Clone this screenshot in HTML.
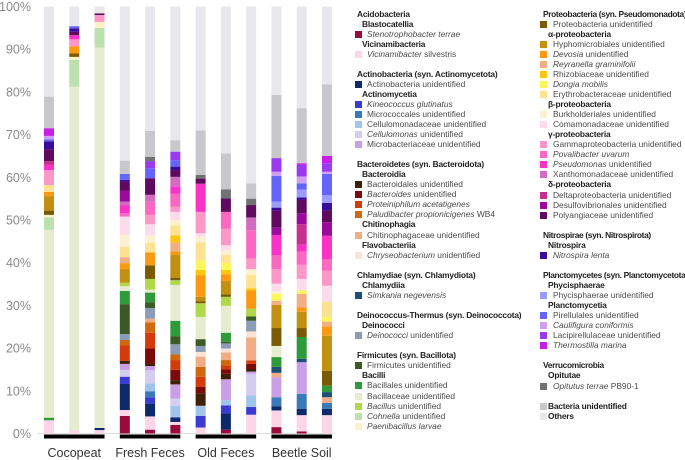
<!DOCTYPE html>
<html><head><meta charset="utf-8"><style>
html,body{margin:0;padding:0;background:#fff;}
#root{position:relative;width:685px;height:460px;overflow:hidden;font-family:"Liberation Sans",sans-serif;}
svg{position:absolute;left:0;top:0;}
.lg{position:absolute;font-size:8.4px;color:#4a4a4a;white-space:nowrap;line-height:10px;}
.lg.h{font-weight:bold;color:#222;letter-spacing:-0.2px;}
.sw{position:absolute;width:7px;height:7px;}
</style></head><body>
<div id="root">
<svg id="chart" width="685" height="460"></svg>
</div>
<script>
const categories=["Stenotrophobacter terrae","Vicinamibacter silvestris","Actinobacteria unidentified","Kineococcus glutinatus","Micrococcales unidentified","Cellulomonadaceae unidentified","Cellulomonas unidentified","Microbacteriaceae unidentified","Bacteroidales unidentified","Bacteroides unidentified","Proteiniphilum acetatigenes","Paludibacter propionicigenes WB4","Chitinophagaceae unidentified","Chryseobacterium unidentified","Simkania negevensis","Deinococci unidentified","Firmicutes unidentified","Bacillales unidentified","Bacillaceae unidentified","Bacillus unidentified","Cohnella unidentified","Paenibacillus larvae","Proteobacteria unidentified","Hyphomicrobiales unidentified","Devosia unidentified","Reyranella graminifolii","Rhizobiaceae unidentified","Dongia mobilis","Erythrobacteraceae unidentified","Burkholderiales unidentified","Comamonadaceae unidentified","Gammaproteobacteria unidentified","Povalibacter uvarum","Pseudomonas unidentified","Xanthomonadaceae unidentified","Deltaproteobacteria unidentified","Desulfovibrionales unidentified","Polyangiaceae unidentified","Nitrospira lenta","Phycisphaerae unidentified","Pirellulales unidentified","Caulifigura coniformis","Lacipirellulaceae unidentified","Thermostilla marina","Opitutus terrae PB90-1","Bacteria unidentified","Others"];
const categoryColors=["#9b0a3c","#fcd5e8","#0d2a6b","#3a3bd1","#3a7ab8","#a0c4ea","#d4cdf0","#c9a0e6","#3e1f08","#7b0a0a","#d43a0a","#d0680e","#f0ac84","#fbe3d6","#1f4e79","#8a9cb8","#3b5a25","#2e9b3a","#e5ecd0","#b0d84a","#bde0b0","#fef0c8","#7a5a06","#c19010","#f99a12","#f2ae84","#fcc60e","#fdf65a","#fde292","#fdf0d0","#fcdcec","#fb98c8","#fb68c2","#fb32c8","#d26cbf","#c8308e","#9c0a9c","#5e0a5e","#3a0a9a","#9c9cfb","#6464fb","#d0a0f0","#9a3af0","#c81ee8","#727272","#c8c8cc","#e8e8ec"];
const groups=["Cocopeat","Fresh Feces","Old Feces","Beetle Soil"];
const yTicks=[0,10,20,30,40,50,60,70,80,90,100];
// per-bar stacks: [categoryIndex, percent], bottom to top
const ccp1=[[1,3.1],[17,.6],[18,44],[20,2.9],[21,.6],[22,1],[23,3.4],[24,1],[28,1.6],[31,3.5],[33,1.2],[35,.9],[37,2.8],[38,1.8],[40,.5],[41,.8],[43,1.8],[45,7.4],[46,21.1]];
const ccp2=[[1,.8],[18,80.4],[20,6.3],[21,.7],[22,.8],[24,1.7],[31,1.6],[33,1],[37,.8],[38,.8],[40,.5],[46,4.6]];
const ccp3=[[1,.8],[2,.5],[18,89.1],[20,4.6],[21,1.4],[31,1.6],[37,.4],[46,1.6]];
const ff1=[[0,4.1],[1,1.4],[2,6.1],[3,1.7],[6,1.6],[7,1.4],[8,.7],[10,3.7],[11,1.2],[15,1.4],[16,7],[17,3.1],[18,1.1],[19,.8],[23,3.2],[24,1.4],[25,1.4],[28,2.4],[29,2.8],[30,4.3],[32,.8],[33,1.9],[34,.8],[36,2.6],[37,2.1],[38,.4],[40,1.4],[45,3.1],[46,36.1]];
const ff2=[[0,.9],[1,3.1],[2,3],[3,1.5],[4,1.4],[5,1.8],[6,3.1],[7,1],[8,.6],[9,3.5],[10,3.7],[11,2.4],[12,.9],[15,2.5],[16,1.3],[17,2.3],[18,.7],[19,2.5],[22,3.2],[24,3],[28,2.3],[29,1.7],[30,2.6],[31,2.2],[32,3.1],[34,1.6],[37,3.9],[40,2.3],[42,1.7],[44,1],[45,6.1],[46,29.1]];
const ff3=[[0,2],[1,.7],[2,1.1],[5,2.7],[6,1.7],[7,3.3],[8,1],[9,2.4],[10,2.3],[11,1.3],[15,2.4],[16,1.9],[17,3.6],[18,8.4],[19,1.1],[22,.6],[23,5.3],[24,.9],[25,2],[26,1.7],[28,2.4],[29,1.2],[30,1.9],[31,1.2],[32,3.1],[33,1.7],[34,2.2],[37,1.6],[38,.8],[40,1.5],[42,2],[45,2.7],[46,31.3]];
const of1=[[1,1.4],[3,2.7],[5,2.4],[8,2.9],[9,1.5],[10,2.4],[11,2.3],[12,2.4],[13,1.1],[15,1.4],[16,1.6],[18,5.2],[19,3.2],[22,.5],[23,1],[24,5],[26,1.3],[27,2.2],[28,4.3],[29,1.3],[30,.8],[31,5],[33,6.6],[37,1.2],[44,.9],[45,10.4],[46,29]];
const of2=[[0,.9],[2,3.8],[3,1.9],[5,1.2],[7,4.9],[8,1.3],[9,1],[10,1],[11,1.2],[12,1.8],[13,.9],[15,1.2],[16,.4],[17,2.1],[18,6.3],[19,2.1],[22,.6],[23,3.1],[24,1.6],[26,1],[27,1.7],[28,1.8],[29,1],[30,1.3],[31,3.9],[32,3.9],[37,3.2],[44,2.1],[45,8.4],[46,34.4]];
const of3=[[1,4.4],[3,1.8],[5,2.7],[6,5.1],[7,.5],[8,.6],[9,1.2],[10,.8],[12,5.4],[13,1.4],[15,2.5],[16,1],[19,1.8],[24,4.3],[26,.5],[28,3.1],[29,1.4],[31,2.5],[32,6.6],[34,3],[37,2.9],[44,1.5],[45,3.6],[46,41.4]];
const bs1=[[0,1.5],[1,3.9],[2,1],[4,2.1],[7,4.7],[12,1],[14,1.4],[17,2.3],[18,2.6],[22,4.2],[23,5.4],[25,1],[27,1.6],[29,.6],[30,1.8],[31,3.4],[32,3.3],[33,4.7],[36,1.7],[37,4],[38,.7],[39,1.4],[40,6],[41,1],[42,3.2],[45,14.8],[46,20.7]];
const bs2=[[0,.5],[1,3.8],[2,1.5],[4,3.5],[7,7.4],[14,.8],[17,5.1],[22,2.1],[23,3.8],[24,1],[25,3.2],[27,.8],[30,2.7],[31,3.3],[32,3.1],[33,1.6],[35,4.8],[36,2.6],[37,3.1],[38,.6],[39,1.8],[40,1.5],[41,1.6],[42,2.7],[43,.4],[45,12.9],[46,23.8]];
const bs3=[[1,4.3],[2,1.5],[4,1.4],[12,1.3],[14,1.2],[17,1.5],[22,3.5],[23,8.2],[24,2.2],[25,1.1],[27,1],[28,3.7],[30,3.7],[31,3.5],[32,2.7],[33,5.5],[36,3.2],[37,2.7],[38,1.8],[39,1.8],[40,5],[41,.5],[42,2],[43,1.7],[45,16.8],[46,18.2]];
const bars=[ccp1,ccp2,ccp3,ff1,ff2,ff3,of1,of2,of3,bs1,bs2,bs3];

const svg=document.getElementById('chart');
const NS='http://www.w3.org/2000/svg';
const y0=433.5, pxPer=4.27;
function yScale(p){return y0-p*pxPer;}
function xBar(i){return 44+i*25.27;}
function mk(t,a){const e=document.createElementNS(NS,t);for(const k in a)e.setAttribute(k,a[k]);svg.appendChild(e);return e;}

yTicks.forEach(function(t){
  const e=mk('text',{x:31,y:yScale(t)+4.5,'text-anchor':'end','font-size':'12.5','fill':'#8a8a8a','font-family':'Liberation Sans, sans-serif'});
  e.textContent=t+'%';
  
  
});
const base=mk('line',{x1:38,x2:335,y1:y0,y2:y0,stroke:'#ddd','stroke-width':1});



bars.forEach(function(segs,i){
  let cum=0;
  segs.forEach(function(s){
    const top=cum+s[1];
    const r=mk('rect',{x:xBar(i),y:yScale(top),width:10,height:s[1]*pxPer,fill:categoryColors[s[0]]});
    
    
    cum=top;
  });
});
groups.forEach(function(g,gi){
  const x1=xBar(gi*3), x2=xBar(gi*3+2)+10;
  const b=mk('rect',{x:x1,y:434.5,width:x2-x1,height:4,fill:'#000'});
  
  
  const t=mk('text',{x:(x1+x2)/2,y:457,'text-anchor':'middle','font-size':'12.5','fill':'#333','font-family':'Liberation Sans, sans-serif'});
  t.textContent=g;
  
  
});

const legendRows=[
[0,14,'h','Acidobacteria'],[0,24,'s','Blastocatellia'],[0,34,'i','<i>Stenotrophobacter terrae</i>',0],[0,44,'s','Vicinamibacteria'],[0,54,'i','<i>Vicinamibacter</i> silvestris',1],
[0,74,'h','Actinobacteria (syn. Actinomycetota)'],[0,84,'i','Actinobacteria unidentified',2],[0,94,'s','Actinomycetia'],[0,104,'i','<i>Kineococcus glutinatus</i>',3],[0,114,'i','Micrococcales unidentified',4],[0,124,'i','Cellulomonadaceae unidentified',5],[0,134,'i','<i>Cellulomonas</i> unidentified',6],[0,144,'i','Microbacteriaceae unidentified',7],
[0,164,'h','Bacteroidetes (syn. Bacteroidota)'],[0,174,'s','Bacteroidia'],[0,184,'i','Bacteroidales unidentified',8],[0,194,'i','<i>Bacteroides</i> unidentified',9],[0,204,'i','<i>Proteiniphilum acetatigenes</i>',10],[0,214,'i','<i>Paludibacter propionicigenes</i> WB4',11],[0,224,'s','Chitinophagia'],[0,235,'i','Chitinophagaceae unidentified',12],[0,245,'s','Flavobacteriia'],[0,255,'i','<i>Chryseobacterium</i> unidentified',13],
[0,275,'h','Chlamydiae (syn. Chlamydiota)'],[0,285,'s','Chlamydiia'],[0,295,'i','<i>Simkania negevensis</i>',14],
[0,315,'h','Deinococcus-Thermus (syn. Deinococcota)'],[0,325,'s','Deinococci'],[0,335,'i','<i>Deinococci</i> unidentified',15],
[0,355,'h','Firmicutes (syn. Bacillota)'],[0,365,'i','Firmicutes unidentified',16],[0,375,'s','Bacilli'],[0,385,'i','Bacillales unidentified',17],[0,396,'i','Bacillaceae unidentified',18],[0,406,'i','<i>Bacillus</i> unidentified',19],[0,416,'i','<i>Cohnella</i> unidentified',20],[0,426,'i','<i>Paenibacillus larvae</i>',21],
[1,14,'h','Proteobacteria (syn. Pseudomonadota)'],[1,24,'i','Proteobacteria unidentified',22],[1,34,'s','α-proteobacteria'],[1,44,'i','Hyphomicrobiales unidentified',23],[1,54,'i','<i>Devosia</i> unidentified',24],[1,64,'i','<i>Reyranella graminifolii</i>',25],[1,74,'i','Rhizobiaceae unidentified',26],[1,84,'i','<i>Dongia mobilis</i>',27],[1,94,'i','Erythrobacteraceae unidentified',28],[1,104,'s','β-proteobacteria'],[1,114,'i','Burkholderiales unidentified',29],[1,124,'i','Comamonadaceae unidentified',30],[1,134,'s','γ-proteobacteria'],[1,144,'i','Gammaproteobacteria unidentified',31],[1,154,'i','<i>Povalibacter uvarum</i>',32],[1,164,'i','<i>Pseudomonas</i> unidentified',33],[1,174,'i','Xanthomonadaceae unidentified',34],[1,184,'s','δ-proteobacteria'],[1,195,'i','Deltaproteobacteria unidentified',35],[1,205,'i','Desulfovibrionales unidentified',36],[1,215,'i','Polyangiaceae unidentified',37],
[1,235,'h','Nitrospirae (syn. Nitrospirota)'],[1,245,'s','Nitrospira'],[1,255,'i','<i>Nitrospira lenta</i>',38],
[1,275,'h','Planctomycetes (syn. Planctomycetota)'],[1,285,'s','Phycisphaerae'],[1,295,'i','Phycisphaerae unidentified',39],[1,305,'s','Planctomycetia'],[1,315,'i','Pirellulales unidentified',40],[1,325,'i','<i>Caulifigura coniformis</i>',41],[1,335,'i','Lacipirellulaceae unidentified',42],[1,345,'i','<i>Thermostilla marina</i>',43],
[1,365,'h','Verrucomicrobia'],[1,375,'s','Opitutae'],[1,386,'i','<i>Opitutus terrae</i> PB90-1',44],
[1,406,'b','Bacteria unidentified',45],[1,416,'b','Others',46]
];
const root=document.getElementById('root');
legendRows.forEach(function(r){
  const col=r[0], y=r[1], type=r[2];
  const sx=col===0?355:540, tx=col===0?367:553, hx=col===0?357:543, subx=col===0?362:548;
  const d=document.createElement('div');
  d.className='lg'+(type==='i'?'':' h');
  d.innerHTML=r[3];
  d.style.top=(y-5)+'px';
  d.style.left=(type==='i'?tx:type==='h'?hx:type==='s'?subx:548)+'px';
  if(type==='h'&&col===1){d.style.letterSpacing='-0.35px';}
  
  
  root.appendChild(d);
  if(r.length>4){
    const s=document.createElement('div');
    s.className='sw';
    s.style.left=sx+'px';
    s.style.top=(y-3.5)+'px';
    s.style.background=categoryColors[r[4]];
    
    
    root.appendChild(s);
  }
});
root.style.overflow='visible';
</script>
</body></html>
